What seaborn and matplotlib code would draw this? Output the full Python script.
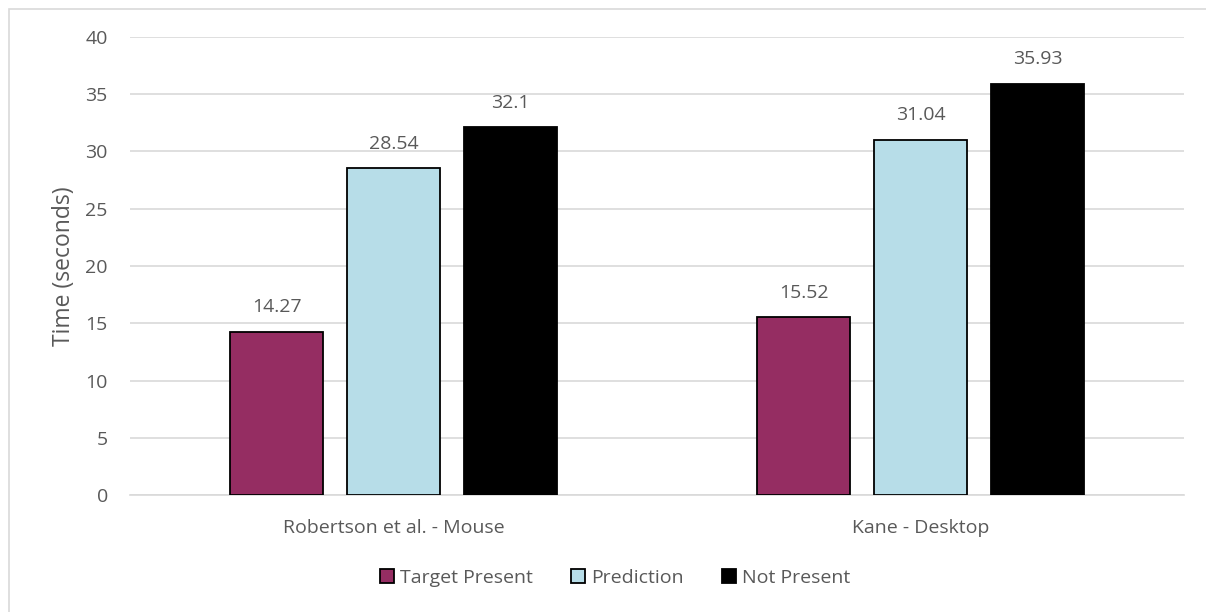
import matplotlib
matplotlib.use("Agg")
import matplotlib.pyplot as plt
import seaborn as sns
import pandas as pd
from matplotlib.patches import Rectangle

studies = ["Robertson et al. - Mouse", "Kane - Desktop"]
conditions = ["Target Present", "Prediction", "Not Present"]
target_present = [14.27, 15.52]
prediction = [28.54, 31.04]
not_present = [32.1, 35.93]
label_text = {
    "Target Present": ["14.27", "15.52"],
    "Prediction": ["28.54", "31.04"],
    "Not Present": ["32.1", "35.93"],
}
colors = ["#952D62", "#B7DDE8", "#000000"]

df = pd.DataFrame({
    "study": studies * 3,
    "condition": [c for c in conditions for _ in studies],
    "time": target_present + prediction + not_present,
})

sns.set_theme(style="white")
plt.rcParams["font.family"] = ["Open Sans", "DejaVu Sans"]
text_color = "#595959"
fs = 14

fig = plt.figure(figsize=(12.06, 6.12), dpi=100)
ax = fig.add_axes([130 / 1206, 1 - 495 / 612, (1184 - 130) / 1206, (495 - 37) / 612])

sns.barplot(data=df, x="study", y="time", hue="condition", order=studies,
            hue_order=conditions, palette=colors, saturation=1, width=0.666, gap=0.21,
            edgecolor="black", linewidth=1.3, ax=ax, legend=True, zorder=3)

ax.set_xlim(-0.5, 1.5)
ax.set_ylim(0, 40)
ax.set_yticks(range(0, 41, 5))
ax.yaxis.grid(True, color="#D9D9D9", linewidth=1.2, zorder=0)
ax.set_axisbelow(True)
for s in ["top", "right", "left"]:
    ax.spines[s].set_visible(False)
ax.spines["bottom"].set_color("#D9D9D9")
ax.spines["bottom"].set_linewidth(1.2)
ax.tick_params(axis="both", colors=text_color, labelsize=fs, length=0)
ax.tick_params(axis="x", pad=17)
ax.tick_params(axis="y", pad=16)
ax.set_xlabel("")
ax.set_ylabel("Time (seconds)", fontsize=16.5, color=text_color, labelpad=7)

for cont, cond in zip(ax.containers, conditions):
    ax.bar_label(cont, labels=label_text[cond], padding=11, fontsize=fs, color=text_color)

handles, labels = ax.get_legend_handles_labels()
ax.get_legend().remove()
fig.legend(handles, labels, loc="center", bbox_to_anchor=(615 / 1206, 1 - 578 / 612),
           ncol=3, frameon=False, fontsize=fs, labelcolor=text_color,
           handlelength=0.7, handleheight=0.7, handletextpad=0.3, columnspacing=2.0)

fig.patches.append(Rectangle((8.5 / 1206, -0.1), 1.2, 1 - 8.5 / 612 + 0.1,
                             transform=fig.transFigure, fill=False,
                             edgecolor="#D9D9D9", linewidth=1.2))

fig.savefig("out.png", dpi=100)
